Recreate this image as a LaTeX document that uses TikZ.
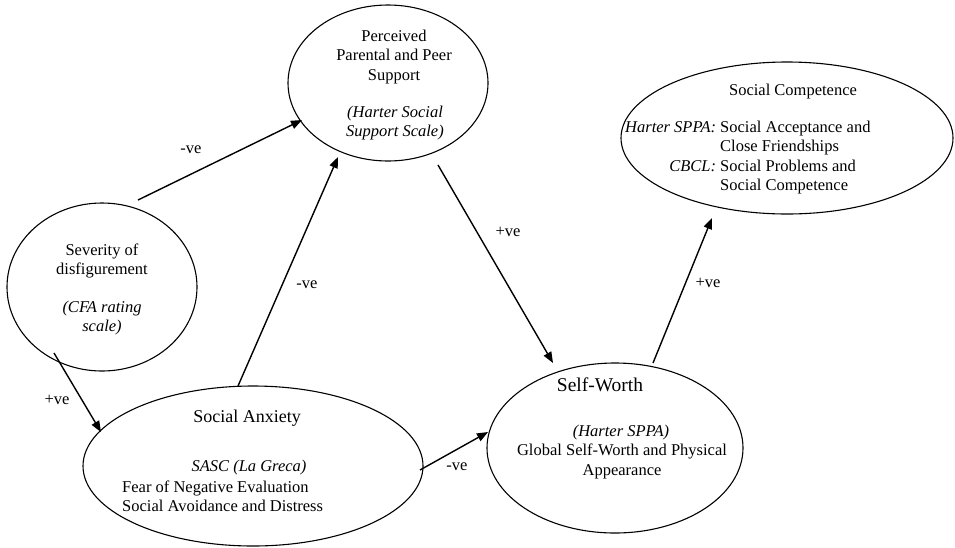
\documentclass[tikz,border=0pt]{standalone}
\usepackage{fontspec}
\setmainfont{Liberation Serif}
\usetikzlibrary{shapes.geometric,arrows.meta}
\begin{document}
\begin{tikzpicture}[x=1pt,y=-1pt,
 oval/.style={draw, ellipse, line width=1.1pt, inner sep=0pt},
 txt/.style={font=\fontsize{16.5}{19.5}\selectfont, align=center, inner sep=0pt},
 ttl/.style={font=\fontsize{18}{21}\selectfont, inner sep=0pt},
 arr/.style={line width=1.4pt, -{Triangle[length=11pt,width=8.5pt]}},
 lbl/.style={font=\fontsize{16.5}{19.5}\selectfont, inner sep=0pt}]
\path[use as bounding box] (0,0) rectangle (955,547);

% ellipses
\node[oval, minimum width=200pt, minimum height=156pt] (perc) at (388,83) {};
\node[oval, minimum width=332pt, minimum height=152pt] (comp) at (787,138) {};
\node[oval, minimum width=190pt, minimum height=168pt] (sev) at (102,287) {};
\node[oval, minimum width=340pt, minimum height=160pt] (anx) at (253,466) {};
\node[oval, minimum width=256pt, minimum height=170pt] (sw) at (615,448) {};

% texts
\node[txt] (percT) at (394,57) {Perceived\\Parental and Peer\\Support};
\node[txt, font=\fontsize{16.5}{19.5}\selectfont\itshape] (percS) at (395,123) {(Harter Social\\Support Scale)};

\node[txt] (compT) at (793,92) {Social Competence};
\node[txt, anchor=west] (compS) at (625,157.5) {\renewcommand\arraystretch{1.0}\begin{tabular}{@{}r@{\ }l@{}}\textit{Harter SPPA:} & Social Acceptance and\\ & Close Friendships\\ \textit{CBCL:} & Social Problems and\\ & Social Competence\end{tabular}};

\node[txt] (sevT) at (102,261) {Severity of\\disfigurement};
\node[txt, font=\fontsize{16.5}{19.5}\selectfont\itshape] (sevS) at (102,318) {(CFA rating\\scale)};

\node[ttl] (anxT) at (247,418) {Social Anxiety};
\node[txt, font=\fontsize{16.5}{19.5}\selectfont\itshape] (anxS) at (249,468) {SASC (La Greca)};
\node[txt, align=left, anchor=west] (anxL) at (122,496.5) {Fear of Negative Evaluation\\Social Avoidance and Distress};

\node[ttl, font=\fontsize{19.5}{22}\selectfont] (swT) at (600,385) {Self-Worth};
\node[txt, font=\fontsize{16.5}{19.5}\selectfont\itshape] (swS) at (621,433) {(Harter SPPA)};
\node[txt] (swL) at (622,461.5) {Global Self-Worth and Physical\\Appearance};

% connector end points
\coordinate (a1) at (138,200); \coordinate (b1) at (302,120);
\coordinate (a2) at (238,386); \coordinate (b2) at (338,157);
\coordinate (a3) at (438,165); \coordinate (b3) at (553,363);
\coordinate (a4) at (420,470); \coordinate (b4) at (488,432);
\coordinate (a5) at (653,363); \coordinate (b5) at (712,218);
\coordinate (a6) at (54,353);  \coordinate (b6) at (101,432);

\draw[arr] (a1) -- (b1);
\draw[arr] (a2) -- (b2);
\draw[arr] (a3) -- (b3);
\draw[arr] (a4) -- (b4);
\draw[arr] (a5) -- (b5);
\draw[arr] (a6) -- (b6);

% labels
\node[lbl] (l1) at (191,150) {-ve};
\node[lbl] (l2) at (307,285) {-ve};
\node[lbl] (l3) at (508,232) {+ve};
\node[lbl] (l4) at (457,467) {-ve};
\node[lbl] (l5) at (708,283) {+ve};
\node[lbl] (l6) at (57,400) {+ve};
\end{tikzpicture}
\end{document}
